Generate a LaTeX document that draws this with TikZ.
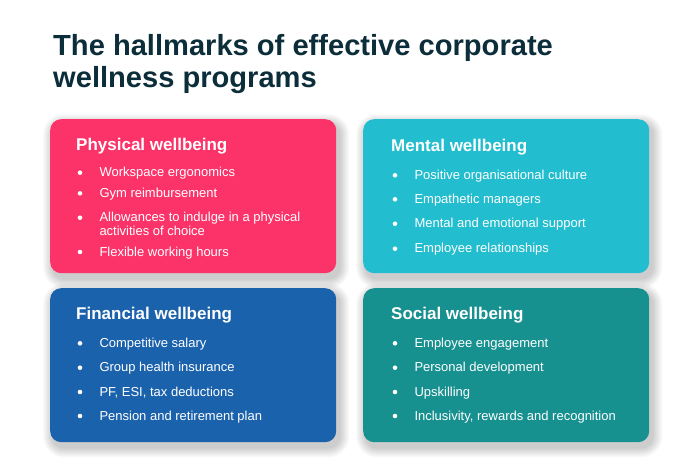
\documentclass[tikz,border=0pt]{standalone}
\usepackage{fontspec}
\setmainfont{Liberation Sans}
\usetikzlibrary{positioning}
\usetikzlibrary{backgrounds}
\definecolor{titleink}{HTML}{0C2E3B}
\definecolor{physpink}{HTML}{FB3369}
\definecolor{mentcyan}{HTML}{22BDCF}
\definecolor{finblue}{HTML}{1B62AC}
\definecolor{socteal}{HTML}{179090}
\tikzset{card/.style = {rounded corners = 11pt, minimum width = 286pt, minimum height = 154pt,
                        anchor = north west, inner sep = 0}}
\tikzset{title/.style = {anchor = base west, inner sep = 0, text = titleink,
                         font = \fontsize{29.1}{32}\selectfont\bfseries}}
\tikzset{head/.style = {anchor = base west, inner sep = 0, text = white,
                        font = \fontsize{17}{20}\selectfont\bfseries}}
\tikzset{item/.style = {anchor = base west, inner sep = 0, text = white,
                        font = \fontsize{13}{14}\selectfont}}
\tikzset{dot/.style = {fill = white, circle, inner sep = 0, minimum size = 4.6pt}}

\begin{document}
\begin{tikzpicture}[x = 1pt, y = -1pt]
      \useasboundingbox (0, 0) rectangle (700, 468);
      \node [title] (title1) at (53, 55.7) {The hallmarks of effective corporate};
      \node [title] (title2) at (53, 88) {wellness programs};

      \node [card, fill = physpink] (phys) at (50, 119) {};
      \node [card, fill = mentcyan] (ment) at (363, 119) {};
      \node [card, fill = finblue] (fin) at (50, 288) {};
      \node [card, fill = socteal] (soc) at (363, 288) {};

      \begin{scope}[on background layer]
        \fill [white] (0, 0) rectangle (700, 468);
        \foreach \c in {phys, ment, fin, soc}
          \foreach \k in {1, ..., 10}
            \fill [black, opacity = 0.018, rounded corners = 11pt + \k pt]
              ([xshift = 3pt - \k pt, yshift = -5pt + \k pt] \c.north west) rectangle
              ([xshift = 3pt + \k pt, yshift = -5pt - \k pt] \c.south east);
      \end{scope}

      \node [head] (physh) at (76, 150) {Physical wellbeing};
      \node [item] (p1) at (99.3, 176.7) {Workspace ergonomics};
      \node [item] (p2) at (99.3, 197.3) {Gym reimbursement};
      \node [item] (p3) at (99.3, 221.7) {Allowances to indulge in a physical};
      \node [item] (p3b) at (99.3, 235.7) {activities of choice};
      \node [item] (p4) at (99.3, 256) {Flexible working hours};

      \node [head] (menth) at (391, 151.7) {Mental wellbeing};
      \node [item] (m1) at (414.3, 179.3) {Positive organisational culture};
      \node [item] (m2) at (414.3, 203.3) {Empathetic managers};
      \node [item] (m3) at (414.3, 227.7) {Mental and emotional support};
      \node [item] (m4) at (414.3, 252.7) {Employee relationships};

      \node [head] (finh) at (76, 319.3) {Financial wellbeing};
      \node [item] (f1) at (99.3, 347.3) {Competitive salary};
      \node [item] (f2) at (99.3, 371.7) {Group health insurance};
      \node [item] (f3) at (99.3, 396) {PF, ESI, tax deductions};
      \node [item] (f4) at (99.3, 420) {Pension and retirement plan};

      \node [head] (soch) at (391, 319.3) {Social wellbeing};
      \node [item] (s1) at (414.3, 347.3) {Employee engagement};
      \node [item] (s2) at (414.3, 371.7) {Personal development};
      \node [item] (s3) at (414.3, 396) {Upskilling};
      \node [item] (s4) at (414.3, 420) {Inclusivity, rewards and recognition};

      \foreach \n in {p1, p2, p3, p4, m1, m2, m3, m4, f1, f2, f3, f4, s1, s2, s3, s4}
        \node [dot] (\n d) at ([xshift = -19.3pt, yshift = 4pt] \n.base west) {};
    \end{tikzpicture}
\end{document}
